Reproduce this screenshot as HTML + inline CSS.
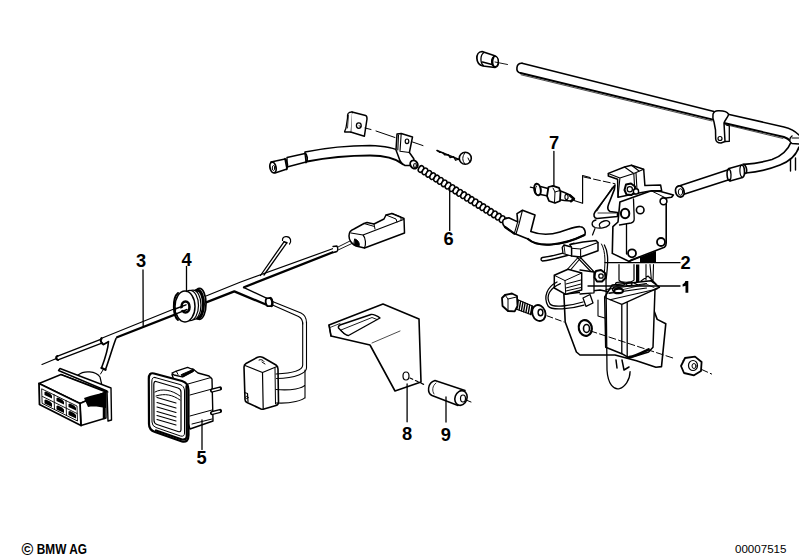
<!DOCTYPE html>
<html><head><meta charset="utf-8">
<style>
html,body{margin:0;padding:0;background:#fff;width:799px;height:559px;overflow:hidden}
svg{display:block;position:absolute;left:0;top:0}
.t{font-family:"Liberation Sans",sans-serif;font-weight:bold;font-size:18.3px;fill:#000}
</style></head><body>
<svg width="799" height="559" viewBox="0 0 799 559">
<g fill="none" stroke="#000" stroke-width="1.2" stroke-linejoin="round" stroke-linecap="round">

<!-- ===== HARNESS (3) ===== -->
<g id="harness">
  <!-- thin left wire -->
  <path d="M42,364.5 L57,358.2" stroke-width="1.2"/><path d="M57,356.3 L102,338.8 M58,359.8 L102.5,342.8" stroke-width="1.3"/><path d="M57.5,356 C55.5,357 55.5,359.5 58,360" stroke-width="2"/>
  <!-- main thick harness top & bottom -->
  <path d="M101,338.5 L240,282.2 L336,247.5" />
  <path d="M117,337.2 L234.3,291.4 L267,305" stroke-width="2.3"/>
  <path d="M244,287.3 L336,251" stroke-width="2.3"/>
  <path d="M101.5,338 C100,340 101,343.5 103.5,344.5 L108,342" stroke-width="2"/>
  <!-- branch to connector -->
  <path d="M108.5,341.5 C108,350 104.5,360 101.5,368 M116,338.5 C113,346 109,360 105.5,369.5" stroke-width="1.6"/><path d="M101.5,368 L105.5,369.8" stroke-width="2.2"/><path d="M103,370 L100.5,374" stroke-width="1"/>
  <!-- branch up -->
  <path d="M260.5,275.5 L284,241.8 M264,275 L286.8,242.8" stroke-width="1.3"/>
  <path d="M284,241.8 L286.8,242.8" stroke-width="1.6"/>
  <path d="M282.5,240.5 C282,236 289,235 290.5,239.5 C291,241.5 290.5,243 289.5,244" stroke-width="1.2"/>
  <!-- branch to relay -->
  <path d="M244,287.7 L267,298.3" stroke-width="1.3"/>
  <path d="M266.5,298.3 L270.5,297.8 C272.8,299 273.2,304 271.8,306.2 L267.5,306.2 C265.5,304.5 265,300.5 266.5,298.3 Z" fill="#fff" stroke-width="1.8"/>
  <path d="M270.5,298 C272.5,300 272.8,304 271.5,306" stroke-width="2.2"/>
  <path d="M272.5,301.5 L301,313 C305.5,315 306.5,318 306.5,323 M272.5,305 L298.5,316.5 C301.5,318 302.7,320 302.7,324" stroke-width="1.1"/>
  <!-- thin wires to plug -->
  <path d="M336,248 L351,240.5 M336,251 L353,243" stroke-width="0.9"/><path d="M333,246.5 L337,246 C338,248 338,250 337,251.5 L333,252.5" stroke-width="1.3" fill="#fff"/>
  <!-- leader 3 -->
  <path d="M143,270 L143.2,326" stroke-width="1.3"/>
</g>

<!-- ===== GROMMET (4) ===== -->
<g id="grommet">
  <ellipse cx="199.5" cy="303.8" rx="6.5" ry="15.5" fill="#fff" stroke-width="1.7"/>
  <ellipse cx="197.5" cy="304.3" rx="6" ry="14" stroke-width="3"/>
  <ellipse cx="193" cy="305" rx="8" ry="14.8" fill="#fff" stroke-width="1.2"/>
  <ellipse cx="190" cy="305.5" rx="8.5" ry="15.2" fill="#fff" stroke-width="1.2"/>
  <ellipse cx="185" cy="306.5" rx="10" ry="15.5" fill="#fff" stroke-width="1.5"/>
  <path d="M178,293 C172,298 173,316 178,320" stroke-width="2"/>
  <ellipse cx="185.5" cy="307" rx="4" ry="5.5" fill="#fff" stroke-width="2.6"/>
  <path d="M175,309 L186,304.8 M176,313.8 L187,309.5" stroke-width="1.4"/>
  <path d="M176,310.5 L186,306.5 L186.5,308.3 L176,312.5 Z" fill="#fff" stroke="none"/>
  <path d="M186.5,291.5 L186.5,266.5" stroke-width="1.3"/>
</g>

<!-- ===== PLUG on harness end ===== -->
<g id="plug">
  <path d="M349,236 C349,232 351,230 354,229 L364,223.5 L367,222.5 L374,224 L384,219 L386,215 L392,213.5 L404,218.5 L404.5,233 L364.5,248 L356,246 C352,244 349,240 349,236 Z" fill="#fff" stroke-width="1.5"/>
  <path d="M351,233 L363,235 L403.5,219.5 M363,235 C366,238 366,245 364.5,248" stroke-width="1.2"/>
  <path d="M364,223.5 L374.5,226.5 L375,229 M374,224 L374.5,226.5 M386,215 L396,219 L397,222 M392,213.5 L401,217 L401,220" stroke-width="1"/>
  <path d="M355,239 C358,240 360,243 359,246 L354,245 Z" fill="#000" stroke-width="1"/>
</g>

<!-- ===== CONNECTOR (left) ===== -->
<g id="connector">
  <!-- boot behind -->
  <path d="M78,375 C84,370 96,371 100,377 L103,390" fill="#fff"/>
  <!-- flange plate -->
  <path d="M58.5,370.5 L60,368.5 L111,388 L111.5,420 L108,421 L107,391 Z" fill="#fff" stroke-width="1.4"/>
  <!-- top face -->
  <path d="M39,383.5 L61,374.5 L106,392 L80,403.5 Z" fill="#fff" stroke-width="1.4"/>
  <path d="M61,374.5 L108,392" />
  <!-- right side -->
  <path d="M80,403.5 L106,392 L106,418 L81,425.5 Z" fill="#fff" stroke-width="1.4"/>
  <path d="M84,398 C92,395 100,393 106,393 L106,408 C100,407 94,406 88,407 Z" fill="#000" stroke="none"/>
  <path d="M104,395 L104,418" stroke-width="2.5"/>
  <!-- front face -->
  <path d="M39,383.5 L80,403.5 L81,425.5 L39.5,404.5 Z" fill="#fff" stroke-width="1.8"/>
  <path d="M42,389 L77,406 L77.5,421 L42.5,403.5 Z M42.5,396.5 L77,413.5 M54,394.5 L54.5,409.5 M66,400.5 L66.5,415.5" stroke-width="0.9"/>
  <g fill="#000" stroke="none">
    <path d="M44.5,392 L46,391.5 L50,393.5 L52,395.5 L52,398.5 L44.5,395 Z"/><path d="M44.5,400 L46,399.5 L50,401.5 L52,403.5 L52,407 L44.5,403.5 Z"/>
    <path d="M56.5,398 L58,397.5 L62,399.5 L64,401.5 L64,404.5 L56.5,401 Z"/><path d="M56.5,406 L58,405.5 L62,407.5 L64,409.5 L64,413 L56.5,409.5 Z"/>
    <path d="M68.5,404 L70,403.5 L74,405.5 L76,407.5 L76,410.5 L68.5,407 Z"/><path d="M68.5,411.5 L70,411 L74,413 L76,415 L76,418.5 L68.5,415 Z"/>
  </g>
</g>

<!-- ===== SWITCH (5) ===== -->
<g id="switch">
  <!-- body behind -->
  <path d="M172,374.5 L176,372 L193,369 L198,373 L209,376 L212,379 L213,421 L190,429 Z" fill="#fff" stroke-width="1.4"/>
  <path d="M188,384 L211,377.5 M190,395 L212,389 M190,416 L212,410 M192,424 L212,419" stroke-width="1"/>
  <path d="M172,373 L176.3,371.2 L187.6,367.4 L194,370 L182.3,376.8 L174,375 Z" fill="#fff" stroke-width="1.3"/><path d="M181.5,374.5 L193,369.5 L193.5,371.5 L183,377 Z" fill="#000" stroke-width="1"/><path d="M176.3,371.2 L178,374.5" stroke-width="1"/>
  <path d="M212,390.5 L220,388.5 M212,413 L220,411" stroke-width="4.2"/><path d="M212.5,390.5 L219.3,388.8 M212.5,413 L219.3,411.3" stroke-width="1.6" stroke="#fff"/>
  <!-- bezel -->
  <path d="M154,373.5 L182,381 Q188.5,383 188.5,390 L188.5,435 Q188.5,443 182,441.5 L155,432 Q149,430 149,424 L148.8,379 Q148.8,372 154,373.5 Z" fill="#fff" stroke-width="2.2"/>
  <path d="M186.5,386 L186.8,436 Q186.5,440 182,439.5 L156,430.5" stroke-width="2.2"/>
  <path d="M155,377.5 L180,384.5 Q184.5,386 184.5,391 L184.5,433 Q184.5,437 180.5,436 L156,427.5 Q152,426 152,422 L151.8,382 Q151.8,376.5 155,377.5 Z" stroke-width="1"/>
  <path d="M156,381.5 L178,388 Q181,389 181,392 L181,429.5 Q181,432.5 178,431.5 L157,424.5 Q154,423.5 154,420.5 L153.8,385 Q153.8,381 156,381.5 Z" stroke-width="1.2"/>
  <path d="M155,392 C162,388 172,390 180,396 M156,396 C165,393 173,395 180,400" stroke-width="1"/>
  <path d="M157,397.5 L176,403 M157,402.5 L176,408 M157,407 L176,412.5 M157,411.5 L176,417 M157,415.5 L176,421 M157,419.5 L176,425" stroke-width="1.1"/>
  <path d="M202,420 L202,449.4" stroke-width="1.3"/>
</g>

<!-- ===== RELAY ===== -->
<g id="relay">
  <path d="M246,363.5 L257,357.5 C259,356.5 261,356.5 263,357.5 L276,365 C277.5,366 278,367 278,369 L278.5,402 C278.5,404 277.5,405 276,405.5 L264,409 C263,409.3 262,409.3 261,409 L247,402.5 C245.5,401.8 245,401 245,399.5 L244,367 C244,365.5 244.5,364.3 246,363.5 Z" fill="#fff" stroke-width="1.6"/>
  <path d="M245,365.5 L262.5,372.5 L277,366.5 M262.5,372.5 L263.2,408.5" stroke-width="1.2"/>
  <path d="M275,368 L275.5,404" stroke-width="1"/>
  <path d="M259,360 C261,359 263,360 264,361.5 M262,362 L265,364" stroke-width="1"/>
  <path d="M244.5,392.5 L247.5,393.5 L248,401.5" stroke-width="1.2"/>
  <circle cx="246.8" cy="397.5" r="1.2" stroke-width="0.9"/>
  <path d="M302.7,322 L302.7,365 C302.7,370 296,373 276,374 M306.5,322 L306.5,368 C306.5,373 296,378 276.5,378.5" stroke-width="1.1"/>
  <path d="M276,389.5 C292,391 303,388 305,385 M276,403 C292,404 303,400 305,397.5 M305,370 L305,398" stroke-width="1.1"/>
</g>

<!-- ===== BRACKET (8) & SPACER (9) ===== -->
<g id="bracket">
  <path d="M329,325 L383,304 L419,319 L421,382 L395,391 L370,345 L331,336 Z" fill="#fff" stroke-width="1.6"/>
  <path d="M331,336 L329,325"/><path d="M372,343 L400,331" stroke-width="0.7"/>
  <path d="M338.5,328 C338,326.5 339,325.5 340,325 L371,314.5 C373,314 378,316 380,318 L348.5,335.5 C346,336 343,333 338.5,328 Z" stroke-width="1.4"/><path d="M341,330 L372,317.5 L377,319.5 M341,330 L344,334" stroke-width="0.9"/><path d="M330,327.5 L340,323.5" stroke-width="0.8"/>
  <ellipse cx="406" cy="376" rx="3" ry="4"/>
  <path d="M410,378 L425,385" stroke-dasharray="3,3"/>
  <path d="M407.1,384 L407.1,421.8" stroke-width="1.3"/>
</g>
<g id="spacer">
  <path d="M435,380.5 L465,390.5 L458,405.5 L432,395.5 C427,393 427,383 435,380.5 Z" fill="#fff" stroke-width="1.5"/>
  <path d="M436,383 C432,386 432,391 434,394" stroke-width="0.8"/>
  <ellipse cx="461" cy="398" rx="6" ry="7.5" fill="#fff" stroke-width="1.6" transform="rotate(20 461 398)"/>
  <ellipse cx="463" cy="398.5" rx="2.5" ry="3.5" stroke-width="1.2"/>
  <path d="M466,400 L471,402" stroke-width="1"/>
  <path d="M446,397 L446,422" stroke-width="1.3"/>
</g>

<!-- ===== TOP ROD ===== -->
<g id="rod">
  <!-- cap -->
  <path d="M482,51.5 L494,55.5 C499,57.5 500,66 495,67.5 L483,66 C475,64 475,52 482,51.5 Z" fill="#fff" stroke-width="1.7"/>
  <path d="M484,52.5 C480,55 480,63 483.5,65.5" stroke-width="1.3"/>
  <path d="M482.5,62 L492,64.5" stroke-width="1.6"/>
  <ellipse cx="495" cy="61.5" rx="3.3" ry="5.2" fill="#fff" stroke-width="1.5"/>
  <path d="M493.5,57.5 C492,60 492,64 493.5,66" stroke-width="2"/>
  <path d="M495,62 L507.5,64.5" stroke-width="0.9"/>
  <!-- rod -->
  <path d="M522,63.3 L714,111.5 M727,114 L784,127 C790,128.5 795,131 799,135" stroke-width="1.6"/>
  <path d="M520.5,73 L713,119.6 M724,123 L784,137 C787,138 789,139.5 791,141.5" stroke-width="1.9"/>
  <path d="M521,74.8 L712,121 M725,124.5 L783,138.5" stroke-width="0.7"/>
  <path d="M522,63.3 C516,63 515,72 520.5,73" stroke-width="1.6"/>
  <!-- bend -->
  <path d="M791.4,141.5 C788,150 782,156 772,159.5 C762,162.5 752,163.7 744,164.3 M799,147 C796,156 790,161 780,165 C770,169 758,172 746,173" stroke-width="1.7"/>
  <!-- clip on rod -->
  <path d="M728.6,114.3 C727,111 723,110.5 718,110.7 C712,111 712,116 714,122 L715.5,130 L715.7,139 C716,142.5 718,143 721,143 L725,141.5 L724,123 C725,120 728,117 728.6,114.3 Z" fill="#fff" stroke-width="1.5"/>
  <path d="M726.4,125 L729.3,126 L729.3,141.4 L725,141.5" stroke-width="1.3"/>
  <circle cx="720" cy="138.5" r="2" stroke-width="1.2"/>
  <!-- right clip -->
  <path d="M792,136 C789,138 789,142 792,143.5 L799,144" stroke-width="1.4" fill="#fff"/>
  <path d="M792,138 L799,138" stroke-width="1"/>
  <path d="M790.5,159 L790.5,171 M795.5,158 L795.5,170" stroke-width="1.4"/>
  <!-- sleeve -->
  <path d="M743,164.3 C746,163.5 748,172 745.5,173.5" stroke-width="1.6"/>
  <path d="M729,168.5 L741.5,165 C745,165 745.5,176 742.5,177.5 L730,181 C726.5,180 726,170 729,168.5 Z" fill="#fff" stroke-width="1.6"/>
  <path d="M741.5,165 C739,167 739.5,176 742.5,177.5" stroke-width="1.2"/>
  <path d="M729,168.5 C731.5,171 731.5,178 730,181" stroke-width="1.3"/>
  <!-- thin tube -->
  <path d="M729,169.6 L677.5,186.5 M729.7,179.5 L682.4,194.8" stroke-width="1.6"/>
  <ellipse cx="679.8" cy="191.5" rx="4.2" ry="5.6" fill="#fff" stroke-width="1.8" transform="rotate(-15 679.8 191.5)"/>
  <ellipse cx="680.5" cy="192" rx="2.2" ry="3.3" stroke-width="1"/>
</g>

<!-- ===== CABLE WITH SPRING (6) ===== -->
<g id="cable">
  <!-- sheath -->
  <path d="M305,152 C325,148 350,145.5 370,145.5 C385,146 395,148 401,152 L403,164 C395,158 385,155.5 370,155.5 C350,155.5 325,158 307,161.5 Z" fill="#fff" stroke="none"/>
  <path d="M305,152 C325,148 350,145.5 370,145.5 C385,146 395,148 401,152" stroke-width="1.5"/>
  <path d="M307,161.5 C325,158 350,155.5 370,155.5 C385,155.5 395,158 403,164" stroke-width="2.2"/>
  <!-- middle sleeve -->
  <path d="M287,157.5 L305,153.5 L306,162 L287,167 Z" fill="#fff" stroke-width="1.4"/>
  <path d="M305,153 C307.5,155 308,160 306,162.5" stroke-width="1.8"/>
  <!-- tip -->
  <path d="M271,162 L285,159 L287,169 L275,173" fill="#fff" stroke-width="1.5"/>
  <path d="M285,158.5 C288,161 288,167 286.5,169.5" stroke-width="1.6"/>
  <ellipse cx="273" cy="167.5" rx="3" ry="5.5" fill="#fff" stroke-width="1.8" transform="rotate(-12 273 167.5)"/>
  <ellipse cx="273.5" cy="168" rx="1.2" ry="2.5" stroke-width="1"/>
  <!-- clip1 speed nut -->
  <path d="M352,112 L365.6,115.6 C367,116 367,118 367,119 L364.4,136.2 L350.6,132 L351,115 Z" fill="#fff" stroke-width="1.5"/>
  <path d="M352,112 C348,112 347,114 347.5,118 L346,128 C345,131 344,132 345,132 L350.6,132" stroke-width="1.3" fill="#fff"/>
  <path d="M348.5,115 L347.5,128" stroke-width="0.8"/>
  <ellipse cx="358.8" cy="125.6" rx="2.4" ry="2.8" stroke-width="1.3"/>
  <path d="M359,125.8 L361,126.5" stroke-width="0.8"/>
  <path d="M365,128 L371,129.5 M376,131 L395,137.5 M412.5,142 L423,145.6" stroke-width="1"/>
  <!-- clip2 -->
  <path d="M396,150 L397,134 L401.2,133.5 L412.5,137 L409.4,152.5 L413.8,158.8 C414.5,162 413.5,165 411.9,165.5 L405,165.5 C402,164 399.5,160 398.8,157.5 Z" fill="#fff" stroke-width="1.5"/>
  <path d="M401.2,133.7 L400,151.2 M398.5,135 L397.8,150 M400,151.2 L409.4,152.5" stroke-width="1.1"/>
  <ellipse cx="407" cy="141.3" rx="1.8" ry="2.3" stroke-width="1.2"/>
  <ellipse cx="414" cy="164.5" rx="3.6" ry="4.3" fill="#fff" stroke-width="1.9" transform="rotate(-30 414 164.5)"/>
  <ellipse cx="415" cy="165.5" rx="1.4" ry="2" stroke-width="1.2"/>
<g id="spring" stroke-width="1.5" fill="#fff"><ellipse cx="421.0" cy="169.0" rx="2.4" ry="3.5" transform="rotate(31.7 421.0 169.0)"/><ellipse cx="424.9" cy="171.4" rx="2.4" ry="3.5" transform="rotate(31.7 424.9 171.4)"/><ellipse cx="428.7" cy="173.8" rx="2.4" ry="3.5" transform="rotate(31.7 428.7 173.8)"/><ellipse cx="432.6" cy="176.2" rx="2.4" ry="3.5" transform="rotate(31.7 432.6 176.2)"/><ellipse cx="436.5" cy="178.5" rx="2.4" ry="3.5" transform="rotate(31.7 436.5 178.5)"/><ellipse cx="440.3" cy="180.9" rx="2.4" ry="3.5" transform="rotate(31.7 440.3 180.9)"/><ellipse cx="444.2" cy="183.3" rx="2.4" ry="3.5" transform="rotate(31.7 444.2 183.3)"/><ellipse cx="448.0" cy="185.7" rx="2.4" ry="3.5" transform="rotate(31.7 448.0 185.7)"/><ellipse cx="451.9" cy="188.1" rx="2.4" ry="3.5" transform="rotate(31.7 451.9 188.1)"/><ellipse cx="455.8" cy="190.5" rx="2.4" ry="3.5" transform="rotate(31.7 455.8 190.5)"/><ellipse cx="459.6" cy="192.9" rx="2.4" ry="3.5" transform="rotate(31.7 459.6 192.9)"/><ellipse cx="463.5" cy="195.2" rx="2.4" ry="3.5" transform="rotate(31.7 463.5 195.2)"/><ellipse cx="467.4" cy="197.6" rx="2.4" ry="3.5" transform="rotate(31.7 467.4 197.6)"/><ellipse cx="471.2" cy="200.0" rx="2.4" ry="3.5" transform="rotate(31.7 471.2 200.0)"/><ellipse cx="475.1" cy="202.4" rx="2.4" ry="3.5" transform="rotate(31.7 475.1 202.4)"/><ellipse cx="479.0" cy="204.8" rx="2.4" ry="3.5" transform="rotate(31.7 479.0 204.8)"/><ellipse cx="482.8" cy="207.2" rx="2.4" ry="3.5" transform="rotate(31.7 482.8 207.2)"/><ellipse cx="486.7" cy="209.6" rx="2.4" ry="3.5" transform="rotate(31.7 486.7 209.6)"/><ellipse cx="490.5" cy="212.0" rx="2.4" ry="3.5" transform="rotate(31.7 490.5 212.0)"/><ellipse cx="494.4" cy="214.3" rx="2.4" ry="3.5" transform="rotate(31.7 494.4 214.3)"/><ellipse cx="498.3" cy="216.7" rx="2.4" ry="3.5" transform="rotate(31.7 498.3 216.7)"/><ellipse cx="502.1" cy="219.1" rx="2.4" ry="3.5" transform="rotate(31.7 502.1 219.1)"/><ellipse cx="506.0" cy="221.5" rx="2.4" ry="3.5" transform="rotate(31.7 506.0 221.5)"/></g>
  <path d="M437.1,150.4 L439.5,152.3 L442.6,152.5 L444.8,155.0 L448.2,154.6 L450.1,157.6 L453.7,156.7 L455.5,160.3 L459.3,158.9" stroke-width="1.2"/><path d="M437,150.5 L459,159.5" stroke-width="1.4"/>
  <circle cx="465.3" cy="158.3" r="6" fill="#fff" stroke-width="1.6"/><path d="M465,153 C462,156 462,161 465,164 M468,158 L470,162" stroke-width="1"/>
  <path d="M449.7,188 L449.7,230.4" stroke-width="1.3"/>
</g>

<!-- ===== ITEM 7 ===== -->
<g id="item7">
  <path d="M530.3,187.1 L536,188.5 M574,200.5 L582.6,203.3 L582.6,175.5 L590,177.5" stroke-width="1.2"/>
  <path d="M540.5,186.5 L548,188.5 L548,196 L540.5,194.5 Z" fill="#fff" stroke-width="1.3"/>
  <ellipse cx="537.5" cy="189.5" rx="3.2" ry="5.8" fill="#fff" stroke-width="2" transform="rotate(-10 537.5 189.5)"/>
  <path d="M536.5,186 C535,188 535,192 536.5,194" stroke-width="1"/>
  <path d="M558,190 L564.4,192.5 L570,195 L574,198.5 L571,201 L564.4,200.5 L558,199.5 Z" fill="#fff" stroke-width="1.4"/>
  <path d="M570,195.5 L574,199 L571,201.2" stroke-width="2.4"/>
  <ellipse cx="566.5" cy="197" rx="1.6" ry="2.6" stroke-width="1.1"/>
  <path d="M548.5,187 L553,185.8 L559,187.8 L560.5,192 L560,201 L555,203 L549,201 L547,196 Z" fill="#fff" stroke-width="1.8"/>
  <path d="M553,188 L555,192 L554.5,202.5 M555,192 L560,190.5" stroke-width="1"/>
  <path d="M553.9,151.5 L553.9,186" stroke-width="1.3"/>
</g>

<!-- ===== MICROSWITCH / MECHANISM ===== -->
<g id="mech">
  <!-- backing plate -->
  <path d="M563.9,294.3 L565.2,322 L576.4,352 L580,355 L615,355 L636.5,360.8 L655.9,367.3 L661.5,366.6 L665.8,323.7 L657.2,319.4 L650,300 L600,290 Z" fill="#fff" stroke-width="1.6"/>
  <ellipse cx="585.3" cy="328" rx="6.5" ry="8" fill="#fff" stroke-width="2.2" transform="rotate(-15 585.3 328)"/>
  <ellipse cx="586.5" cy="328.5" rx="3" ry="4" stroke-width="1.6"/>
  <!-- motor body -->
  <path d="M604.7,297 L612.2,285 L650.8,280.7 L659.4,287.2 L655,289.3 L653,347.3 L648.6,352 L629.3,358 L621.8,353.7 L605.7,347.3 Z" fill="#fff" stroke-width="1.5"/>
  <path d="M604.7,297.5 L621.8,304.4 L655,289.3 M621.8,304.4 L621.8,353.7 M627.2,302 L627.2,358" stroke-width="1.3"/>
  <path d="M609,293 L646,284 L654,287.5" stroke-width="0.8"/>
  <path d="M629.3,357 C636,356 643,352 648.6,349.4" stroke-width="2.6"/>
  <ellipse cx="616.5" cy="289.3" rx="4" ry="2.5" fill="#fff" stroke-width="1.3"/>
  <path d="M598,300 L598,316 L604.7,318" stroke-width="1.1"/>
  <path d="M616,360 L617,368 M622,360 L624,370 L629,367" stroke-width="1.5"/>
  <!-- dashed axis -->
  <path d="M590,330.8 L675,358.7 M683,361 L711.6,374" stroke-width="1" stroke-dasharray="7,3"/>
  <!-- motor top area under switch -->
  <path d="M619,264.5 L619,280 C620,283 632,283 634,280 L634,264.5" fill="#fff" stroke-width="1.2"/>
  <path d="M636,264.5 L639.3,264.5 L639.3,282 L636,282 Z" fill="#000" stroke="none"/>
  <path d="M646,264.5 L646,280 M650,264.5 L651.5,281 M653.5,264.5 L653,282 M641,281 L648,276 L656,284" stroke-width="1.1"/>
  <ellipse cx="620" cy="284" rx="4.5" ry="1.8" stroke-width="1.2"/>
  <ellipse cx="629" cy="284" rx="3" ry="1.6" stroke-width="1.2"/>
  <path d="M634,283 L638,285 M606,289.5 L646.5,283.5 M609,293.4 L646.5,288 M610,299.7 L657,289" stroke-width="1.1"/>
  <path d="M614,291.5 C614,288 623,287.5 623,291 C623,293.5 614,294 614,291.5 Z" fill="#fff" stroke-width="2.2"/>
  <!-- wire loop -->
  <path d="M604.4,245 C609,253 608,265 606,280 L607,370 C608,385 614,390 619.4,388.7 C625,387 630,380 630.1,371.6" stroke-width="1.3"/>
  <path d="M601.5,244 C606,252 605.5,264 603.5,280" stroke-width="1"/>
  <!-- microswitch plate -->
  <path d="M619.9,201.9 L651.3,190.8 L660.6,191.4 L673.4,194.9 L671.6,197.2 L666.2,198 L666.2,243 C666.2,245.5 665.5,246.5 664.4,247.3 L631.3,260 L629.2,261.5 L612.3,253.4 L612.9,226.6 L618,222 Z" fill="#fff" stroke-width="1.6"/>
  <path d="M633.5,199 L634.2,218.5 C634.3,221 633,222.5 631,223 L619.5,225 M626.5,225 L626.5,254" stroke-width="1.3"/>
  <path d="M651.3,190.8 L665.8,198" stroke-width="1"/>
  <ellipse cx="625.1" cy="213.5" rx="4.2" ry="4.8" fill="#fff" stroke-width="2"/>
  <circle cx="640.2" cy="210" r="3.8" fill="#fff" stroke-width="1.6"/>
  <circle cx="663.5" cy="201.3" r="3.4" fill="#fff" stroke-width="1.6"/>
  <circle cx="661" cy="242" r="4" fill="#fff" stroke-width="1.8"/>
  <circle cx="632" cy="253.3" r="4" fill="#fff" stroke-width="1.8"/>
  <path d="M640,257 L656,251 L656,262 L640,262 Z" fill="#000" stroke="none"/><path d="M644,262 L646,258 L650,259 M630,261 L640,257" stroke-width="1.5"/>
  <!-- clamp bracket on top -->
  <path d="M608.3,173.4 L624.5,167 L631.5,165.2 L643.7,169.3 L644.9,185.6 L660.6,185 L661.7,190.8 L651.3,190.8 L635,193.7 L618,197.2 L617.6,179.2 L608.3,176 Z" fill="#fff" stroke-width="1.5"/>
  <path d="M608.3,173.4 L619.9,178 L633.8,173.4 L643.7,169.3 M619.9,178 L618,197.2 M633.8,173.4 L635,193.7 M636,172.8 L637,190" stroke-width="1.1"/>
  <path d="M624.5,167 L633,173 M631.5,165.2 L639,171" stroke-width="1.1"/>
  <path d="M626,184.5 L631,183.5 L635,186.5 L635,192 L631.5,195 L626.5,194.5 L624.5,190 Z" fill="#fff" stroke-width="2"/>
  <circle cx="629.8" cy="189.3" r="2.6" stroke-width="1.2"/>
  <circle cx="636" cy="191.4" r="2.6" fill="#fff" stroke-width="1.4"/>
  <!-- lever -->
  <path d="M615,185 L595,212 C593,215 594,218 597,218.5 L617.5,216.5 L617.5,212.5 L610,211.5 C607.5,210 607.5,207 608.5,204.5 L614.4,189.4 Z" fill="#fff" stroke-width="1.6"/>
  <path d="M612.5,187 L597,211 M598,213 L616,213" stroke-width="0.8"/>
  <path d="M596,220 C591,221 591,226 595,227.5 C600,229 606,228 609,225 C611,222 608,220 604,221 C600,222 598,225 600,227" stroke-width="1.3"/>
  <path d="M595,228.5 L592.5,235" stroke-width="1.2"/>
  <path d="M583.75,177 L615,183.75" stroke-width="1" stroke-dasharray="7,3"/>
  <!-- curved tube with bracket -->
  <path d="M504.6,219.1 L508.8,217.7 L517.7,221.9 L517,213.6 L522.5,210.2 L535,215 L530.8,231.5 C540,235 550,235 560,232 C570,229 575,226 580.4,226.7 C585,227 586,233 584.5,235 C562,246 538,248 528,239 L514.3,233.6 L504.6,226.7 C502,224 502,220 504.6,219.1 Z" fill="#fff" stroke-width="1.6"/>
  <path d="M517.7,221.9 L514.3,233.6 M522.5,210.2 L519,224 L516,234" stroke-width="1.1"/>
  <path d="M505,227 L514.3,233.6" stroke-width="2.2"/>
  <path d="M528,239 C538,248 562,246 584.5,235" stroke-width="2.2"/>
  <!-- upper small connector -->
  <path d="M542.5,257.5 C555,256 565,252 571,251 L571.5,254.5 C565,255.5 555,259.5 542.5,261 C540.5,260.5 540.5,258 542.5,257.5 Z" fill="#fff" stroke-width="1.4"/>
  <path d="M570,244.5 L583,242 L596,240.5 L598,242.5 L598,250.8 L580.6,257 L571.5,256 L571.5,248.3 Z" fill="#fff" stroke-width="1.5"/>
  <path d="M571.5,248.3 L580.6,249 L598,242.5 M580.6,249 L580.6,257 M570,244.5 L574,243" stroke-width="1.1"/>
  <path d="M562.2,247.3 L564,245 L571.5,247 L571.5,256 L563,253.5 Z" fill="#fff" stroke-width="1.3"/>
  <path d="M564,245 L565,253.5" stroke-width="0.9"/>
  <!-- crossing wires -->
  <path d="M577,257 L596,277 M580,257 L597.5,275.5 M578,257.5 L565,272 M581,257.5 L568,273" stroke-width="1.1"/>
  <!-- lower connector -->
  <path d="M580,270 L594,272 L594,292.8 L580,294" fill="#fff" stroke-width="1.3"/>
  <path d="M554.3,275.3 L568,269.2 L581.7,273 L581.7,290 L565.7,294.3 L554.3,288 Z" fill="#fff" stroke-width="1.5"/>
  <path d="M554.3,275.3 L565,280.6 L581.7,273 M565,280.6 L565.7,294.3 M566,284 L581,280 M566,288 L581,284 M566,291 L581,287.5" stroke-width="1"/>
  <path d="M596,271 L601,270 L605,273 L605.5,278 L602,281.5 L597,281.5 L594.5,277.5 L595,273 Z" fill="#fff" stroke-width="2"/><circle cx="601" cy="276" r="2.2" stroke-width="1.3"/>
  <!-- wire loop from connector -->
  <path d="M560.4,283.6 C550,288 545,296 550,304 C553,308 570,306 583,302 M557,282 C547,287 543,297 548,306 C552,311 570,309 584,305" stroke-width="1.3"/>
  <path d="M583,298 L590,294.5 L593,303 L586,306.4 Z" fill="#fff" stroke-width="1.3"/>
  <!-- leaders -->
  <path d="M605,262.7 L680,262.7 M588,286 L680,286" stroke-width="1.3"/>
  <!-- bolt & washer -->
  <path d="M516,299 L532.5,306 L531,314.5 L514.5,308.5 Z" fill="#fff" stroke-width="1.3"/>
  <path d="M516.0,299.5 L514.5,308.0 M518.3,300.4 L516.8,308.9 M520.6,301.4 L519.1,309.9 M522.9,302.3 L521.4,310.8 M525.1,303.2 L523.6,311.7 M527.4,304.1 L525.9,312.6 M529.7,305.1 L528.2,313.6 M532.0,306.0 L530.5,314.5" stroke-width="1.4"/>
  <path d="M505,295 L512,293.5 L517,296 L517.5,306 L514.7,311.3 L508,311 L502.5,306 L502,298 Z" fill="#fff" stroke-width="1.8"/>
  <path d="M505,295 L508,299 L508,311 M508,299 L516.5,297" stroke-width="1"/>
  <ellipse cx="538.8" cy="313" rx="6.5" ry="8.2" fill="#fff" stroke-width="1.9" transform="rotate(-20 538.8 313)"/>
  <ellipse cx="540.5" cy="312.5" rx="2.4" ry="3.2" stroke-width="1.4"/>
  <path d="M547,315.8 L564,322" stroke-width="1" stroke-dasharray="6,3"/>
  <!-- nut -->
  <path d="M685,358 L695,356.6 L701.6,362 L701,371 L694,375.3 L684,373 L681,366 Z" fill="#fff" stroke-width="1.8"/>
  <ellipse cx="693" cy="365.5" rx="4.5" ry="5" stroke-width="1.2"/>
  <ellipse cx="694" cy="366" rx="2" ry="2.5" stroke-width="1"/>
</g>

<!-- ===== LABELS ===== -->
<g stroke="none">
<text class="t" x="136" y="266.7">3</text>
<text class="t" x="181.6" y="265.8">4</text>
<text class="t" x="196.5" y="463.9">5</text>
<text class="t" x="443.6" y="245.3">6</text>
<text class="t" x="549.1" y="148.6">7</text>
<text class="t" x="402.1" y="439.7">8</text>
<text class="t" x="440.7" y="440.6">9</text>
<text class="t" x="680.5" y="269">2</text>
<path d="M685.3,281 L688.3,281 L688.3,292.8 L685.5,292.8 L685.5,285.8 C684.5,286.3 683.5,286.6 682.6,286.6 L682.6,284.2 C684,284 685,282.6 685.3,281 Z" fill="#000"/>
</g>
</g>
<text x="21.5" y="554.7" style="font-family:'Liberation Sans',sans-serif;font-weight:bold;font-size:16px" fill="#000">©</text><text x="36.8" y="554" textLength="50.2" lengthAdjust="spacingAndGlyphs" style="font-family:'Liberation Sans',sans-serif;font-weight:bold;font-size:15.5px" fill="#000">BMW AG</text>
<text x="735" y="553" textLength="51.5" lengthAdjust="spacingAndGlyphs" style="font-family:'Liberation Sans',sans-serif;font-size:11.7px" fill="#000">00007515</text>
</svg>
</body></html>
